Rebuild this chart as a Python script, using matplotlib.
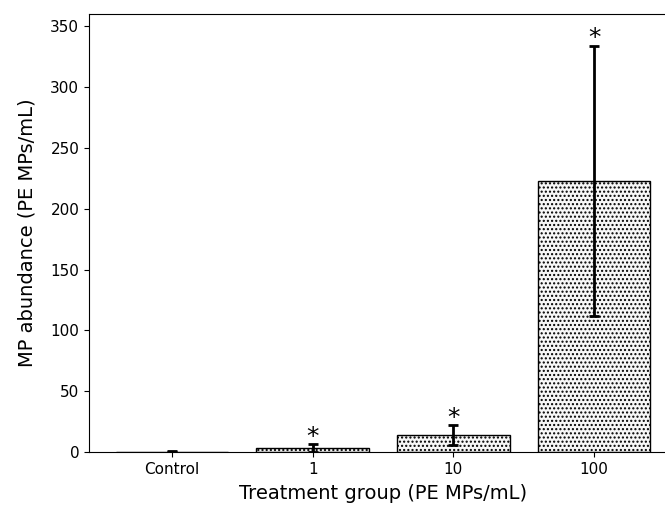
import matplotlib
matplotlib.use("Agg")
import matplotlib.pyplot as plt

categories = ["Control", "1", "10", "100"]
means = [0.3, 3.0, 13.6, 223.0]
errors = [0.3, 3.2, 8.2, 111.0]
stars = ["", "*", "*", "*"]
y_ticks = [0, 50, 100, 150, 200, 250, 300, 350]

fig = plt.figure(figsize=(6.65, 5.07), dpi=100)
ax = fig.add_axes([89/665, 55/507, (677-89)/665, (452-14)/507])

x = list(range(len(categories)))
ax.bar(x, means, width=0.8, color="#f7f7f7", edgecolor="black", hatch="....", linewidth=1.0)
ax.errorbar(x, means, yerr=errors, fmt="none", ecolor="black", elinewidth=2, capsize=3.5, capthick=2)
for xi, m, e, s in zip(x, means, errors, stars):
    if s:
        ax.annotate(s, (xi, m + e), xytext=(0, -3), textcoords="offset points",
                    ha="center", va="bottom", fontsize=18)

ax.set_xticks(x)
ax.set_xticklabels(categories)
ax.set_yticks(y_ticks)
ax.tick_params(labelsize=11)
ax.set_ylim(0, 360)
ax.set_xlim(-0.59, 3.59)
ax.set_xlabel("Treatment group (PE MPs/mL)", fontsize=14, labelpad=5)
ax.set_ylabel("MP abundance (PE MPs/mL)", fontsize=14, labelpad=10)

fig.savefig("out.png", dpi=100)
